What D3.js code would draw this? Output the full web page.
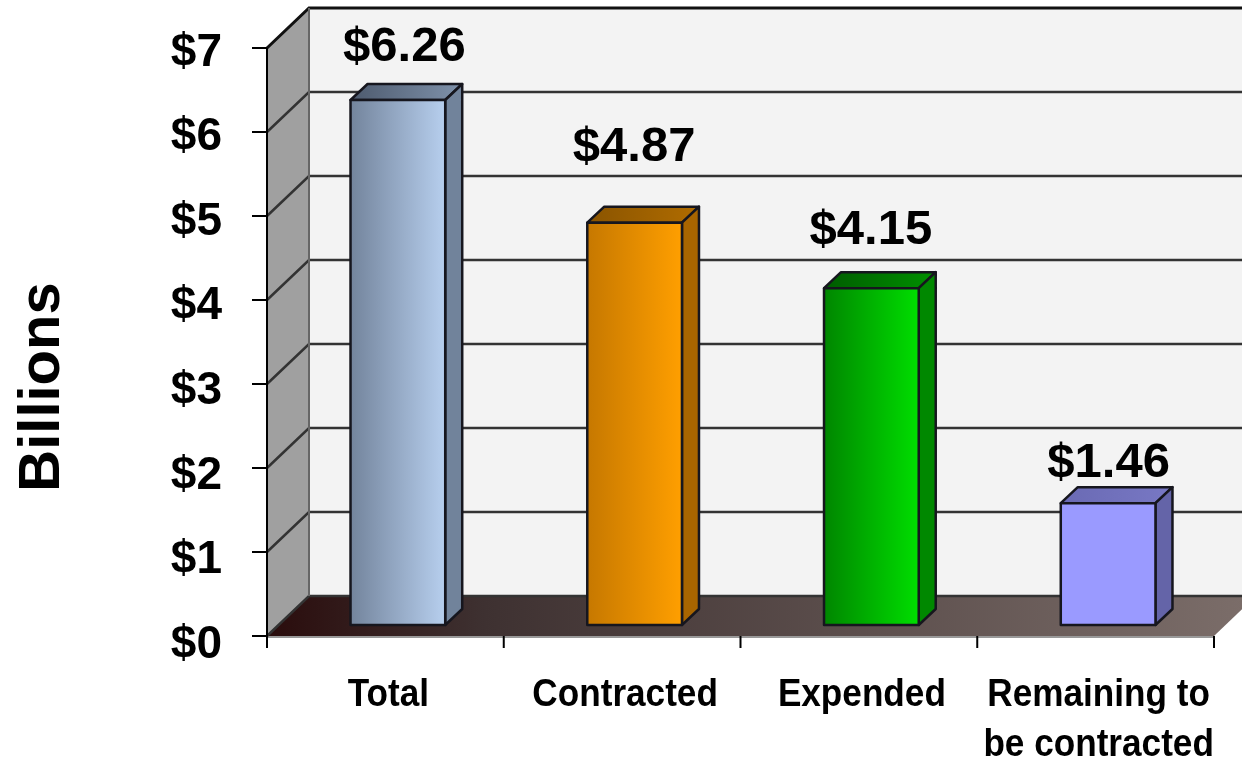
<!DOCTYPE html>
<html lang="en">
<head>
<meta charset="utf-8">
<title>Billions</title>
<script src="https://d3js.org/d3.v7.min.js"></script>
<style>
  html, body { margin: 0; padding: 0; background: #fff; overflow: hidden; }
  svg { display: block; filter: blur(0.6px); }
  text { font-family: "Liberation Sans", Arial, sans-serif; font-weight: bold; fill: #000; }
</style>
</head>
<body>
<div id="chart"></div>
<script>
// values
var categories = ["Total", "Contracted", "Expended", "Remaining to|be contracted"];
// the drawn bars stand a little lower than their printed labels on two of them
var barHeights = [6.25, 4.79, 4.01, 1.45];
var barLabels = ["$6.26", "$4.87", "$4.15", "$1.46"];
var yTicks = [0, 1, 2, 3, 4, 5, 6, 7];
var axisTitle = "Billions";
var frontColors = [["#73849c", "#b7cfee"], ["#c67800", "#ff9f00"], ["#008600", "#00de00"], ["#9a9aff", "#9a9aff"]];
var topColors = [["#4d5a6e", "#7f92ab"], ["#8a5400", "#b06c00"], ["#005c00", "#009000"], ["#6a6ab4", "#7878c4"]];
var sideColors = ["#71839b", "#a86500", "#008800", "#6464a8"];
// labels were placed by hand in the original, so they do not sit evenly over the bars
var labelLift = [50, 73, 55, 37];
var labelShift = [19, 12, 12, 13];

var w = 1242, h = 760;
var margin = { top: 48, left: 267, bottom: 124, right: 28 };
var width = w - margin.left - margin.right, height = h - margin.top - margin.bottom;
// oblique offsets of the fake 3D box
var depth = { x: 42, y: -40 };
var barOffset = { x: 12.5, y: -11 };
var barDepth = { x: 17, y: -16 };

var svg = d3.select("#chart").append("svg")
    .attr("width", w)
    .attr("height", h)
    .attr("viewBox", `0 0 ${w} ${h}`);
var defs = svg.append("defs");
var g = svg.append("g").attr("transform", `translate(${margin.left},${margin.top})`);

var x = d3.scaleBand().domain(categories).range([0, width]).paddingInner(0.6).paddingOuter(0.3);
var y = d3.scaleLinear().domain([0, 7]).range([height, 0]);

function poly(points) { return "M" + points.map(p => p.join(",")).join("L") + "Z"; }
function hGradient(id, from, to) {
    var grad = defs.append("linearGradient").attr("id", id);
    grad.append("stop").attr("offset", "0%").attr("stop-color", from);
    grad.append("stop").attr("offset", "100%").attr("stop-color", to);
    return `url(#${id})`;
}

// back wall
g.append("rect")
    .attr("x", depth.x).attr("y", y(7) + depth.y)
    .attr("width", width + depth.x).attr("height", height)
    .attr("fill", "#f3f3f3");
// left wall
g.append("path")
    .attr("d", poly([[0, y(0)], [depth.x, y(0) + depth.y], [depth.x, y(7) + depth.y], [0, y(7)]]))
    .attr("fill", "#a0a0a0");
// floor, reddish only at the far left then going neutral
var floorFill = hGradient("floor", "#2a0c0c", "#7c6e6a");
d3.select("#floor").insert("stop", "stop:last-child").attr("offset", "22%").attr("stop-color", "#3e3131");
g.append("path")
    .attr("d", poly([[0, y(0)], [depth.x, y(0) + depth.y], [width + depth.x, y(0) + depth.y], [width, y(0)]]))
    .attr("fill", floorFill);
g.append("line")
    .attr("x1", 0).attr("x2", width).attr("y1", y(0) + 1).attr("y2", y(0) + 1)
    .attr("stroke", "#999").attr("stroke-width", 2);

// grid lines run up the left wall and along the back wall
g.selectAll("path.grid")
    .data(yTicks)
    .join("path")
    .attr("class", "grid")
    .attr("fill", "none")
    .attr("stroke", d => d == 7 ? "#111" : "#333")
    .attr("stroke-width", d => d == 7 ? 3 : 2.5)
    .attr("d", d => `M0,${y(d)}L${depth.x},${y(d) + depth.y}H${width + depth.x}`);
g.append("line")
    .attr("x1", depth.x).attr("x2", depth.x)
    .attr("y1", y(7) + depth.y).attr("y2", y(0) + depth.y)
    .attr("stroke", "#666").attr("stroke-width", 2);

// bars
var bars = g.selectAll("g.bar")
    .data(categories)
    .join("g")
    .attr("class", "bar")
    .attr("transform", `translate(${barOffset.x},${barOffset.y})`);
var bw = x.bandwidth();
bars.append("path")
    .attr("fill", (d, i) => hGradient("top" + i, topColors[i][0], topColors[i][1]))
    .attr("d", (d, i) => {
        var l = x(d), t = y(barHeights[i]);
        return poly([[l, t], [l + barDepth.x, t + barDepth.y], [l + bw + barDepth.x, t + barDepth.y], [l + bw, t]]);
    });
bars.append("path")
    .attr("fill", (d, i) => sideColors[i])
    .attr("d", (d, i) => {
        var r = x(d) + bw, t = y(barHeights[i]);
        return poly([[r, t], [r + barDepth.x, t + barDepth.y], [r + barDepth.x, y(0) + barDepth.y], [r, y(0)]]);
    });
bars.append("rect")
    .attr("x", d => x(d))
    .attr("y", (d, i) => y(barHeights[i]))
    .attr("width", bw)
    .attr("height", (d, i) => y(0) - y(barHeights[i]))
    .attr("fill", (d, i) => hGradient("front" + i, frontColors[i][0], frontColors[i][1]));
bars.selectAll("path, rect")
    .attr("stroke", "#16161e")
    .attr("stroke-width", 2.5)
    .attr("stroke-linejoin", "round");

// value labels
g.selectAll("text.value")
    .data(categories)
    .join("text")
    .attr("class", "value")
    .attr("x", (d, i) => x(d) + bw / 2 + labelShift[i])
    .attr("y", (d, i) => y(barHeights[i]) - labelLift[i])
    .attr("text-anchor", "middle")
    .attr("font-size", 49)
    .text((d, i) => barLabels[i]);

// axes
var yAxis = g.append("g")
    .call(d3.axisLeft(y).tickValues(yTicks).tickSize(15).tickSizeOuter(0).tickPadding(30).offset(0).tickFormat(d => "$" + d));
yAxis.select(".domain").attr("stroke", "#000").attr("stroke-width", 2);
yAxis.selectAll("line").attr("stroke", "#000").attr("stroke-width", 2);
// the labels spread slightly wider than the ticks in the original
yAxis.selectAll("text")
    .attr("font-size", 46)
    .attr("font-family", "Liberation Sans")
    .attr("dy", "0.36em")
    .attr("y", d => 1 + (7 - d) * 0.6);

var xTicks = d3.range(categories.length + 1).map(i => i * x.step());
var xScaleTicks = d3.scaleLinear().domain([0, width]).range([0, width]);
var xAxis = g.append("g")
    .attr("transform", `translate(0,${height})`)
    .call(d3.axisBottom(xScaleTicks).tickValues(xTicks).tickSize(12).tickSizeOuter(0).offset(0).tickFormat(""));
xAxis.select(".domain").remove();
xAxis.selectAll("line").attr("stroke", "#000").attr("stroke-width", 2);

// category labels are condensed, no narrow face is installed so squeeze the glyphs
var catLabels = g.append("g").attr("class", "cat")
    .selectAll("text")
    .data(categories)
    .join("text")
    .attr("text-anchor", "middle")
    .attr("font-size", 38)
    .attr("y", height + 70);
catLabels.selectAll("tspan")
    .data(d => d.split("|").map(s => ({ s: s, c: d })))
    .join("tspan")
    .attr("x", d => x(d.c) + bw / 2 + 3)
    .attr("dy", (d, i) => i ? 50 : 0)
    .text(d => d.s)
    .each(function() {
        var len = this.getComputedTextLength();
        d3.select(this).attr("textLength", len * 0.925).attr("lengthAdjust", "spacingAndGlyphs");
    });

// axis title
svg.append("text")
    .attr("transform", "translate(59,387) rotate(-90)")
    .attr("text-anchor", "middle")
    .attr("font-size", 58)
    .text(axisTitle);
</script>
</body>
</html>
